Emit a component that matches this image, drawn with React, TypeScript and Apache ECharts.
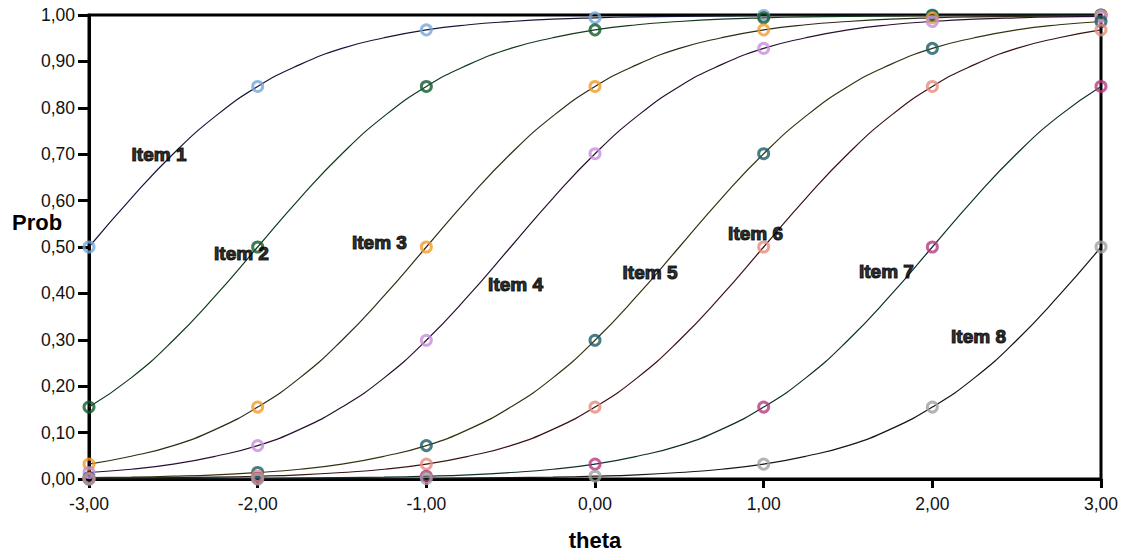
import React, { useEffect, useRef } from "react";
import * as echarts from "echarts";

// theta grid at which curve values were read (step 0.25)
const thetaValues = [
  -3, -2.75, -2.5, -2.25, -2, -1.75, -1.5, -1.25, -1, -0.75, -0.5, -0.25, 0,
  0.25, 0.5, 0.75, 1, 1.25, 1.5, 1.75, 2, 2.25, 2.5, 2.75, 3,
];
const itemNames = ["Item 1", "Item 2", "Item 3", "Item 4", "Item 5", "Item 6", "Item 7", "Item 8"];

const item1 = [0.5, 0.605, 0.701, 0.782, 0.846, 0.893, 0.928, 0.951, 0.968, 0.979, 0.986, 0.991, 0.994, 0.996, 0.997, 0.998, 0.999, 0.999, 1.0, 1.0, 1.0, 1.0, 1.0, 1.0, 1.0];
const item2 = [0.155, 0.218, 0.299, 0.395, 0.5, 0.605, 0.701, 0.782, 0.846, 0.893, 0.928, 0.951, 0.968, 0.979, 0.986, 0.991, 0.994, 0.996, 0.997, 0.998, 0.999, 0.999, 1.0, 1.0, 1.0];
const item3 = [0.032, 0.049, 0.072, 0.107, 0.155, 0.218, 0.299, 0.395, 0.5, 0.605, 0.701, 0.782, 0.846, 0.893, 0.928, 0.951, 0.968, 0.979, 0.986, 0.991, 0.994, 0.996, 0.997, 0.998, 0.999];
const item4 = [0.014, 0.021, 0.032, 0.049, 0.072, 0.107, 0.155, 0.218, 0.299, 0.395, 0.5, 0.605, 0.701, 0.782, 0.846, 0.893, 0.928, 0.951, 0.968, 0.979, 0.986, 0.991, 0.994, 0.996, 0.997];
const item5 = [0.003, 0.004, 0.006, 0.009, 0.014, 0.021, 0.032, 0.049, 0.072, 0.107, 0.155, 0.218, 0.299, 0.395, 0.5, 0.605, 0.701, 0.782, 0.846, 0.893, 0.928, 0.951, 0.968, 0.979, 0.986];
const item6 = [0.001, 0.002, 0.003, 0.004, 0.006, 0.009, 0.014, 0.021, 0.032, 0.049, 0.072, 0.107, 0.155, 0.218, 0.299, 0.395, 0.5, 0.605, 0.701, 0.782, 0.846, 0.893, 0.928, 0.951, 0.968];
const item7 = [0.0, 0.0, 0.0, 0.001, 0.001, 0.002, 0.003, 0.004, 0.006, 0.009, 0.014, 0.021, 0.032, 0.049, 0.072, 0.107, 0.155, 0.218, 0.299, 0.395, 0.5, 0.605, 0.701, 0.782, 0.846];
const item8 = [0.0, 0.0, 0.0, 0.0, 0.0, 0.0, 0.0, 0.001, 0.001, 0.002, 0.003, 0.004, 0.006, 0.009, 0.014, 0.021, 0.032, 0.049, 0.072, 0.107, 0.155, 0.218, 0.299, 0.395, 0.5];

const itemSeries = [item1, item2, item3, item4, item5, item6, item7, item8];

// label anchor positions (theta, prob)
const labelTheta = [-2.585, -2.096, -1.278, -0.471, 0.326, 0.952, 1.728, 2.274];
const labelProb = [0.699, 0.487, 0.51, 0.42, 0.445, 0.529, 0.447, 0.307];

const markerColors = ["#77a6d8", "#0e5a2c", "#f39a26", "#c68fd9", "#1c5c66", "#e98b7e", "#b8387f", "#a0a0a0"];
const lineColors = ["#14163a", "#0f3a1c", "#2e2c14", "#2a1030", "#33330f", "#3a1212", "#0f2e2e", "#151515"];

const fmt = (v: number) => v.toFixed(2).replace(".", ",");

export default function App() {
  const ref = useRef<HTMLDivElement>(null);
  useEffect(() => {
    if (!ref.current) return;
    const chart = echarts.init(ref.current, undefined, { renderer: "svg" });
    const font = "'Liberation Sans', Arial, sans-serif";

    const lineSeries = itemSeries.map((vals, i) => ({
      type: "line",
      name: itemNames[i],
      data: thetaValues.map((t, k) => [t, vals[k]]),
      showSymbol: false,
      symbol: "none",
      smooth: 0.5,
      lineStyle: { color: lineColors[i], width: 1.2 },
      z: 2,
    }));

    const markerSeries = itemSeries.map((vals, i) => ({
      type: "scatter",
      name: itemNames[i] + " points",
      data: thetaValues
        .map((t, k) => [t, vals[k]])
        .filter((p) => Number.isInteger(p[0])),
      symbol: "circle",
      symbolSize: 10,
      clip: false,
      itemStyle: { color: "rgba(0,0,0,0)", borderColor: markerColors[i], borderWidth: 3 },
      z: 3,
    }));

    const labelSeries = {
      type: "scatter",
      name: "labels",
      data: itemNames.map((n, i) => ({ name: n, value: [labelTheta[i], labelProb[i]] })),
      symbolSize: 1,
      itemStyle: { color: "rgba(0,0,0,0)" },
      label: {
        show: true,
        position: "inside",
        formatter: (p: any) => p.name,
        fontFamily: font,
        fontSize: 19,
        fontWeight: "bold",
        color: "#000",
        textBorderColor: "#000",
        textBorderWidth: 1.2,
      },
      z: 5,
    };

    chart.setOption({
      animation: false,
      backgroundColor: "#fff",
      grid: {
        left: 89,
        right: 24,
        top: 15,
        bottom: 65,
        show: true,
        borderColor: "#000",
        borderWidth: 3,
      },
      xAxis: {
        type: "value",
        min: -3,
        max: 3,
        interval: 1,
        name: "theta",
        nameLocation: "middle",
        nameGap: 50,
        nameTextStyle: { fontFamily: font, fontSize: 22, fontWeight: "bold", color: "#000" },
        axisLine: { show: true, onZero: false, lineStyle: { color: "#000", width: 3 } },
        axisTick: { show: true, length: 9, lineStyle: { color: "#000", width: 3 } },
        axisLabel: { formatter: fmt, fontFamily: font, fontSize: 17.5, color: "#111", margin: 16 },
        splitLine: { show: false },
      },
      yAxis: {
        type: "value",
        min: 0,
        max: 1,
        interval: 0.1,
        axisLine: { show: true, onZero: false, lineStyle: { color: "#000", width: 3 } },
        axisTick: { show: true, length: 11, lineStyle: { color: "#000", width: 3 } },
        axisLabel: { formatter: fmt, fontFamily: font, fontSize: 17.5, color: "#111", margin: 14 },
        splitLine: { show: false },
      },
      graphic: [
        {
          type: "text",
          x: 12,
          y: 222,
          style: {
            text: "Prob",
            font: "bold 22px 'Liberation Sans', Arial, sans-serif",
            fill: "#000",
            textVerticalAlign: "middle",
          },
          z: 10,
        },
      ],
      series: [...lineSeries, ...markerSeries, labelSeries],
    });
    return () => chart.dispose();
  }, []);
  return (
    <div
      ref={ref}
      style={{ position: "fixed", left: 0, top: 0, width: 1125, height: 556 }}
    />
  );
}
